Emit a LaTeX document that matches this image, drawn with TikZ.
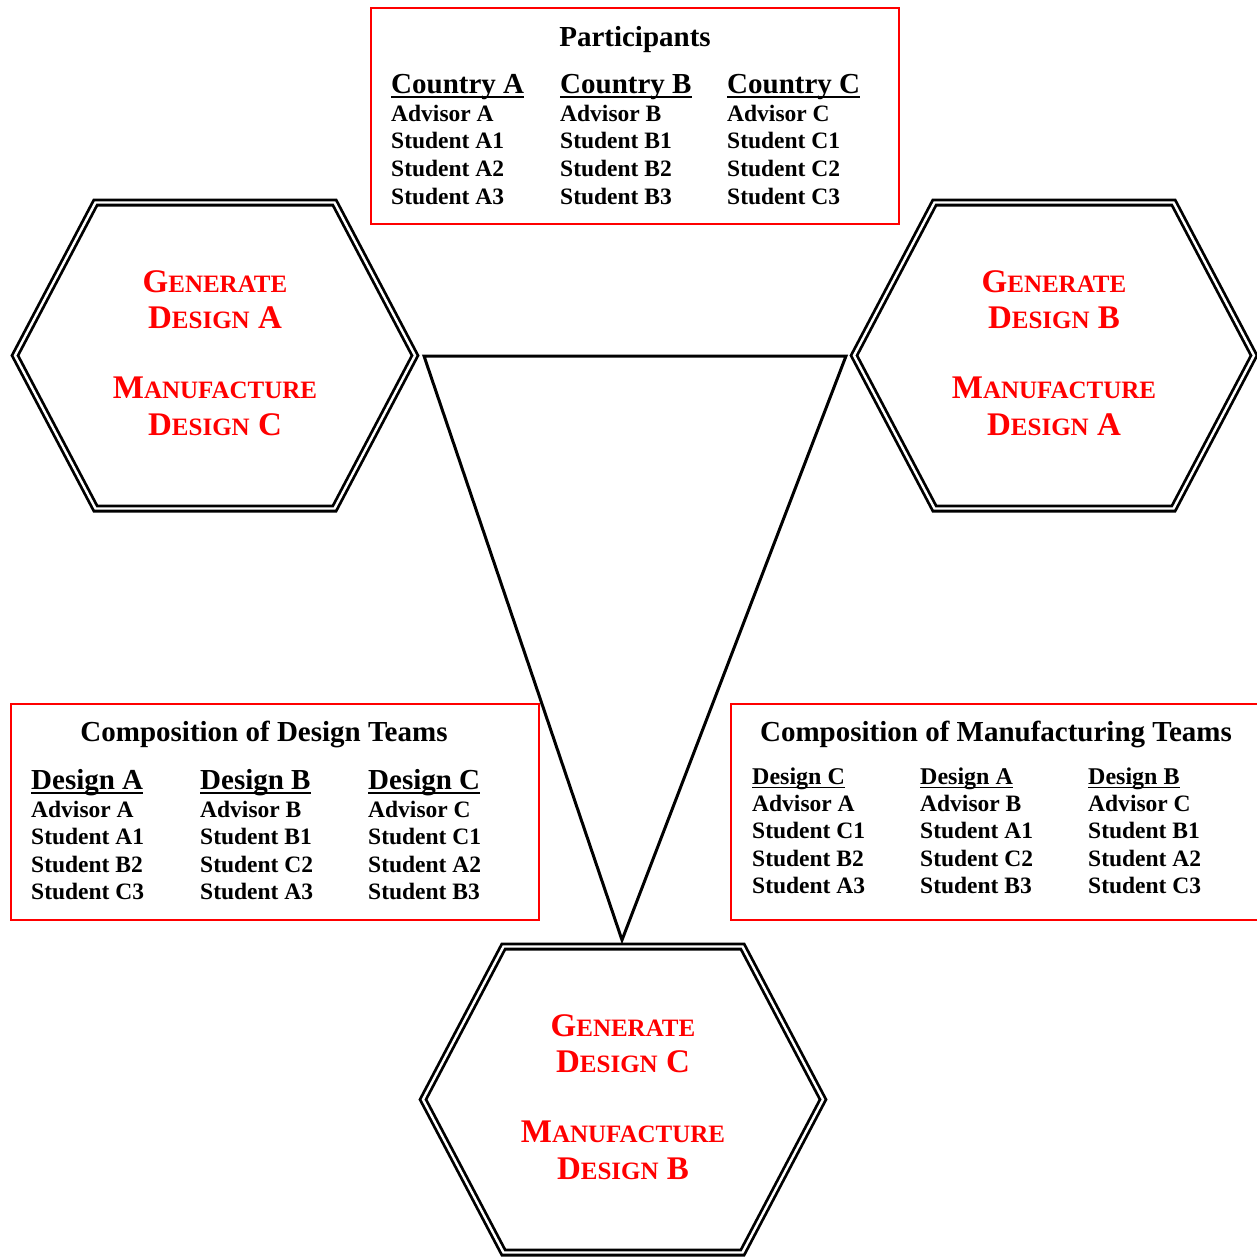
\documentclass[tikz,border=0pt]{standalone}
\usepackage{fontspec}
\setmainfont{Liberation Serif}
\usepackage{tikz}

% fake small caps for the hexagon labels
\newcommand{\hexbig}[1]{{\fontsize{33}{33}\selectfont #1}}
\newcommand{\hexsmall}[1]{{\fontsize{25}{25}\selectfont #1}}

\tikzset{
  boxtitle/.style={anchor=base, inner sep=0pt, font=\fontsize{29}{29}\selectfont\bfseries},
  colhead/.style={anchor=base west, inner sep=0pt, font=\fontsize{29}{29}\selectfont\bfseries},
  smallhead/.style={anchor=base west, inner sep=0pt, font=\fontsize{24}{24}\selectfont\bfseries},
  entry/.style={anchor=base west, inner sep=0pt, font=\fontsize{23.5}{23.5}\selectfont\bfseries},
  hextext/.style={anchor=base, inner sep=0pt, text=red, font=\bfseries},
  hexline/.style={double, line width=2.8pt, double distance=2.4pt, line join=miter},
  redbox/.style={draw=red, line width=2pt, fill=white},
  headline/.style={line width=2pt},
}

\begin{document}
\begin{tikzpicture}[x=1pt, y=-1pt]
    \useasboundingbox (0,0) rectangle (1257,1256);

    % Triangle between the three sites
    \coordinate (tl) at (424,356);
    \coordinate (tr) at (846,356);
    \coordinate (tb) at (622,940);
    \draw[line width=3pt, line join=miter] (tl) -- (tr) -- (tb) -- cycle;

    % Hexagons with their tasks
    \foreach \cx/\cy/\gen/\man/\id in {215/355.5/A/C/l, 1054/355.5/B/A/r, 623/1099.5/C/B/b} {
        \draw[hexline] (\cx-119.5,\cy-153) -- (\cx+119.5,\cy-153) -- (\cx+200,\cy)
            -- (\cx+119.5,\cy+153) -- (\cx-119.5,\cy+153) -- (\cx-200,\cy) -- cycle;
        \node[hextext] (gen\id) at (\cx,\cy-63) {\hexbig{G}\hexsmall{ENERATE}};
        \node[hextext] (gend\id) at (\cx,\cy-27) {\hexbig{D}\hexsmall{ESIGN}\hexbig{~\gen}};
        \node[hextext] (man\id) at (\cx,\cy+42.5) {\hexbig{M}\hexsmall{ANUFACTURE}};
        \node[hextext] (mand\id) at (\cx,\cy+80) {\hexbig{D}\hexsmall{ESIGN}\hexbig{~\man}};
    }

    % Participants
    \draw[redbox] (371,8) rectangle (899,224);
    \node[boxtitle] (ptitle) at (635,46) {Participants};
    \foreach \ctry/\x in {A/391, B/560, C/727} {
        \node[colhead] (p\ctry) at (\x,93) {Country \ctry};
        \node[entry] (p\ctry0) at (\x,121) {Advisor \ctry};
        \foreach \k in {1,2,3}
            \node[entry] (p\ctry\k) at (\x,{121+27.7*\k}) {Student \ctry\k};
    }

    % Composition of design teams
    \draw[redbox] (11,704) rectangle (539,920);
    \node[boxtitle] (dtitle) at (264,741) {Composition of Design Teams};
    \foreach \d/\x/\s/\t/\u in {A/31/A1/B2/C3, B/200/B1/C2/A3, C/368/C1/A2/B3} {
        \node[colhead] (d\d) at (\x,789) {Design \d};
        \node[entry] (d\d0) at (\x,817) {Advisor \d};
        \node[entry] (d\d1) at (\x,844.5) {Student \s};
        \node[entry] (d\d2) at (\x,872) {Student \t};
        \node[entry] (d\d3) at (\x,899.5) {Student \u};
    }

    % Composition of manufacturing teams
    \draw[redbox] (731,704) rectangle (1264,920);
    \node[boxtitle] (mtitle) at (996,741) {Composition of Manufacturing Teams};
    \foreach \d/\x/\a/\s/\t/\u in {C/752/A/C1/B2/A3, A/920/B/A1/C2/B3, B/1088/C/B1/A2/C3} {
        \node[smallhead] (m\d) at (\x,784) {Design \d};
        \node[entry] (m\d0) at (\x,811) {Advisor \a};
        \node[entry] (m\d1) at (\x,838.5) {Student \s};
        \node[entry] (m\d2) at (\x,866) {Student \t};
        \node[entry] (m\d3) at (\x,893.5) {Student \u};
    }

    % Underlined column heads
    \foreach \n in {pA,pB,pC,dA,dB,dC}
        \draw[headline] ([yshift=-4pt]\n.base west) -- ([yshift=-4pt]\n.base east);
    \foreach \n in {mA,mB,mC}
        \draw[headline, line width=1.7pt] ([yshift=-3.5pt]\n.base west) -- ([yshift=-3.5pt]\n.base east);
\end{tikzpicture}
\end{document}
